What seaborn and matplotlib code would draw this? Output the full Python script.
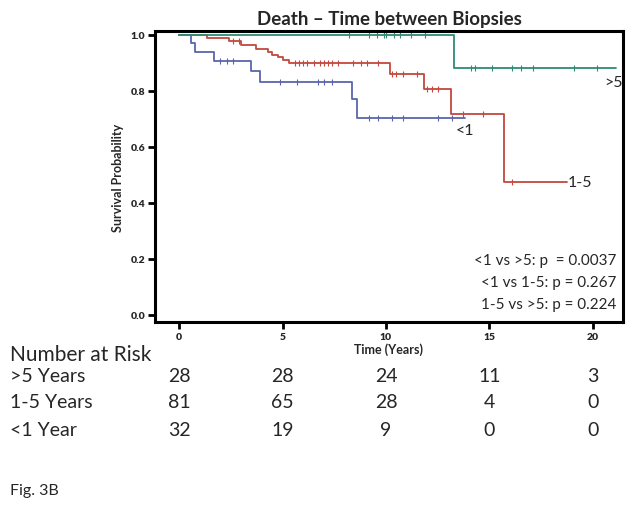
import numpy as np
import pandas as pd
import matplotlib
matplotlib.use("Agg")
import matplotlib.pyplot as plt
import seaborn as sns
from matplotlib.transforms import blended_transform_factory

# ---- data ----
green_t = [0, 13.3, 21.1]
green_s = [1.0, 0.882, 0.882]
green_cens = [8.2, 9.2, 9.55, 9.9, 10.0, 10.4, 10.7, 11.2, 11.9, 14.1, 14.3,
              15.1, 16.1, 16.5, 17.1, 19.1, 20.2]

blue_t = [0, 0.57, 0.78, 1.7, 3.5, 3.9, 8.35, 8.6, 13.8]
blue_s = [1.0, 0.97, 0.94, 0.907, 0.87, 0.832, 0.77, 0.705, 0.705]
blue_cens = [2.0, 2.3, 2.6, 4.9, 5.7, 6.7, 7.0, 7.4, 9.2, 9.6, 10.3, 10.8,
             12.5, 13.2]

red_t = [0, 1.35, 2.4, 3.0, 3.7, 4.3, 4.5, 4.8, 5.0, 5.3, 10.2, 11.85, 13.15,
         15.7, 18.75]
red_s = [1.0, 0.99, 0.98, 0.965, 0.95, 0.94, 0.93, 0.92, 0.91, 0.90, 0.86,
         0.807, 0.718, 0.475, 0.475]
red_cens = [2.6, 2.9, 5.6, 5.8, 6.0, 6.2, 6.5, 6.8, 7.0, 7.2, 7.4, 7.7, 8.4,
            8.8, 9.1, 9.6, 10.3, 10.5, 10.8, 11.5, 12.0, 12.2, 12.5, 13.7,
            14.7, 16.1]

group_labels = [">5", "<1", "1-5"]
risk_rows = [">5 Years", "1-5 Years", "<1 Year"]
risk_times = [0, 5, 10, 15, 20]
risk_gt5 = [28, 28, 24, 11, 3]
risk_1to5 = [81, 65, 28, 4, 0]
risk_lt1 = [32, 19, 9, 0, 0]
pvals = ["<1 vs >5: p  = 0.0037", "<1 vs 1-5: p = 0.267", "1-5 vs >5: p = 0.224"]

colors = {"green": "#2e8b73", "blue": "#5b64ab", "red": "#c4483e"}

# ---- figure ----
sns.set_theme(style="white")
plt.rcParams['font.family'] = ['Lato', 'DejaVu Sans']

fig = plt.figure(figsize=(6.32, 5.06), dpi=100)
ax = fig.add_axes([155 / 632, 1 - 323 / 506, (623 - 155) / 632, (323 - 32) / 506])

def step_at(ts, ss, x):
    idx = np.searchsorted(ts, x, side="right") - 1
    return np.asarray(ss)[idx]

curves = [
    (red_t, red_s, red_cens, colors["red"]),
    (blue_t, blue_s, blue_cens, colors["blue"]),
    (green_t, green_s, green_cens, colors["green"]),
]
for ts, ss, cens, col in curves:
    df = pd.DataFrame({"t": ts, "s": ss})
    sns.lineplot(data=df, x="t", y="s", drawstyle="steps-post", color=col,
                 lw=1.3, ax=ax, estimator=None)
    cy = step_at(ts, ss, np.array(cens))
    ax.plot(cens, cy, ls="none", marker="|", ms=5, mew=0.8, color=col)

ax.set_xlim(-1.16, 21.45)
ax.set_ylim(-0.025, 1.014)
ax.set_xticks([0, 5, 10, 15, 20])
ax.set_yticks([0.0, 0.2, 0.4, 0.6, 0.8, 1.0])
ax.set_yticklabels(["0.0", "0.2", "0.4", "0.6", "0.8", "1.0"])
for s in ax.spines.values():
    s.set_linewidth(2.2)
    s.set_color("black")
ax.tick_params(axis="both", which="major", direction="out", length=5, width=2,
               color="black", labelsize=7.5, pad=2, bottom=True, left=True)
for lab in ax.get_xticklabels() + ax.get_yticklabels():
    lab.set_fontweight("heavy")
ax.set_xlabel("Time (Years)", fontsize=9, fontweight="bold", labelpad=1)
ax.set_ylabel("Survival Probability", fontsize=9, fontweight="bold", labelpad=5)
ax.set_title("Death \u2013 Time between Biopsies", fontsize=13.5, fontweight="bold", pad=5)

# curve labels
ax.text(20.55, 0.858, group_labels[0], fontsize=11.5, ha="left", va="top")
ax.text(13.35, 0.685, group_labels[1], fontsize=11.5, ha="left", va="top")
ax.text(18.8, 0.475, group_labels[2], fontsize=11.5, ha="left", va="center")

# p-values
for i, p in enumerate(pvals):
    ax.text(21.15, 0.195 - i * 0.077, p, fontsize=11, ha="right", va="center")

# number at risk table
trans = blended_transform_factory(ax.transData, fig.transFigure)
fig.text(10 / 632, 1 - 355 / 506, "Number at Risk", fontsize=15, ha="left", va="center")
rows_y = [377, 403, 431]
for lab, vals, yy in zip(risk_rows, [risk_gt5, risk_1to5, risk_lt1], rows_y):
    fig.text(10 / 632, 1 - yy / 506, lab, fontsize=14, ha="left", va="center")
    for t, v in zip(risk_times, vals):
        ax.text(t, 1 - yy / 506, str(v), transform=trans, fontsize=14,
                ha="center", va="center", clip_on=False)

fig.text(10 / 632, 1 - 491 / 506, "Fig. 3B", fontsize=11.5, ha="left", va="center")

fig.savefig("out.png", dpi=100)
